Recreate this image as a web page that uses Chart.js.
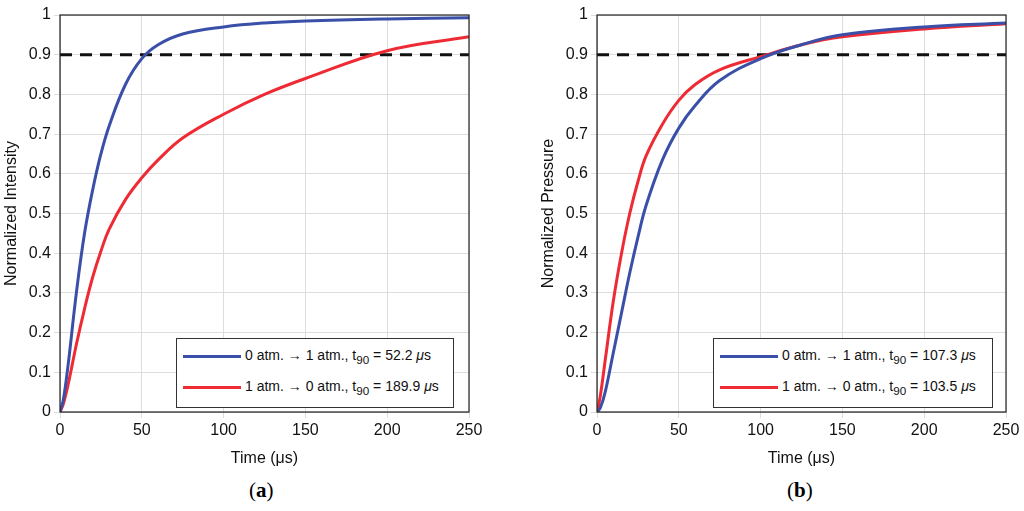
<!DOCTYPE html>
<html><head><meta charset="utf-8">
<script src="https://cdn.jsdelivr.net/npm/chart.js@4"></script>
<style>
body{margin:0;width:1024px;height:511px;background:#fff;position:relative;overflow:hidden;font-family:"Liberation Sans",Arial,sans-serif}
.wrap{position:absolute;top:0;height:470px}
.leg{position:absolute;background:#fff;border:1.5px solid #333;font-size:14px;padding:3px 8px 3px 6px;line-height:26px;color:#111}
.leg span.ln{display:inline-block;width:58px;height:3px;vertical-align:middle;margin-right:4px}
.cap{position:absolute;top:478px;font:bold 21px "Liberation Serif",serif}
.cap b{font-weight:normal}
</style></head><body>
<div class="wrap" style="left:0;width:500px"><canvas id="ca"></canvas></div>
<div class="wrap" style="left:537px;width:487px"><canvas id="cb"></canvas></div>
<div class="leg" style="left:176px;top:338px;width:262px">
<div><span class="ln" style="background:#3a4fa8"></span>0 atm. &rarr; 1 atm., t<sub>90</sub> = 52.2 <i>&mu;</i>s</div>
<div><span class="ln" style="background:#ee2b34"></span>1 atm. &rarr; 0 atm., t<sub>90</sub> = 189.9 <i>&mu;</i>s</div></div>
<div class="leg" style="left:713px;top:338px;width:264px">
<div><span class="ln" style="background:#3a4fa8"></span>0 atm. &rarr; 1 atm., t<sub>90</sub> = 107.3 <i>&mu;</i>s</div>
<div><span class="ln" style="background:#ee2b34"></span>1 atm. &rarr; 0 atm., t<sub>90</sub> = 103.5 <i>&mu;</i>s</div></div>
<div class="cap" style="left:249px"><b>(</b>a<b>)</b></div>
<div class="cap" style="left:787px"><b>(</b>b<b>)</b></div>
<script>
// time axis samples (µs)
const times = [0,2,5,10,15,20,25,30,40,50,60,75,100,125,150,200,250];
// panel (a): normalized intensity
const intensityUp   = [0,0.03,0.12,0.30,0.45,0.56,0.65,0.72,0.825,0.89,0.925,0.952,0.97,0.98,0.985,0.99,0.993];
const intensityDown = [0,0.02,0.07,0.17,0.26,0.34,0.405,0.46,0.535,0.59,0.635,0.69,0.75,0.80,0.84,0.91,0.945];
// panel (b): normalized pressure
const pressureUp    = [0,0.01,0.05,0.15,0.25,0.35,0.44,0.52,0.635,0.715,0.772,0.835,0.89,0.925,0.95,0.97,0.98];
const pressureDown  = [0,0.04,0.13,0.28,0.40,0.50,0.58,0.645,0.725,0.785,0.825,0.862,0.895,0.925,0.945,0.965,0.978];
const threshold = 0.9;

const boxPlugin = {
  id: "box",
  afterDraw(chart) {
    const a = chart.chartArea, c = chart.ctx;
    c.save(); c.strokeStyle = "#222"; c.lineWidth = 1.2;
    c.strokeRect(a.left, a.top, a.right - a.left, a.bottom - a.top); c.restore();
  }
};

function makeChart(id, up, down, yTitle, rightPad) {
  const pts = arr => times.map((t, i) => ({ x: t, y: arr[i] }));
  const font = { family: "Liberation Sans, Arial", size: 16 };
  new Chart(document.getElementById(id), {
    type: "line",
    data: {
      datasets: [
        { data: pts(up), borderColor: "#3a4fa8", borderWidth: 3, pointRadius: 0, tension: 0.4 },
        { data: pts(down), borderColor: "#ee2b34", borderWidth: 3, pointRadius: 0, tension: 0.4 },
        { data: [{ x: 0, y: threshold }, { x: 250, y: threshold }], borderColor: "#111", borderWidth: 3, borderDash: [12, 8], pointRadius: 0 }
      ]
    },
    options: {
      responsive: true, maintainAspectRatio: false, animation: false,
      layout: { padding: { top: 15, right: rightPad, left: 0, bottom: 0 } },
      plugins: { legend: { display: false }, tooltip: { enabled: false } },
      scales: {
        x: {
          type: "linear", min: 0, max: 250,
          ticks: { stepSize: 50, color: "#111", font },
          grid: { color: "#ddd", tickLength: 6 },
          title: { display: true, text: "Time (μs)", color: "#111", font, padding: 2 },
          afterFit(s) { s.height = 58; }
        },
        y: {
          min: 0, max: 1,
          ticks: { stepSize: 0.1, color: "#111", font, callback: v => String(Number(v.toFixed(1))) },
          grid: { color: "#ddd", tickLength: 6 },
          title: { display: true, text: yTitle, color: "#111", font, padding: 2 },
          afterFit(s) { s.width = 60; }
        }
      }
    },
    plugins: [boxPlugin]
  });
}

makeChart("ca", intensityUp, intensityDown, "Normalized Intensity", 31);
makeChart("cb", pressureUp, pressureDown, "Normalized Pressure", 18);
</script>
</body></html>
